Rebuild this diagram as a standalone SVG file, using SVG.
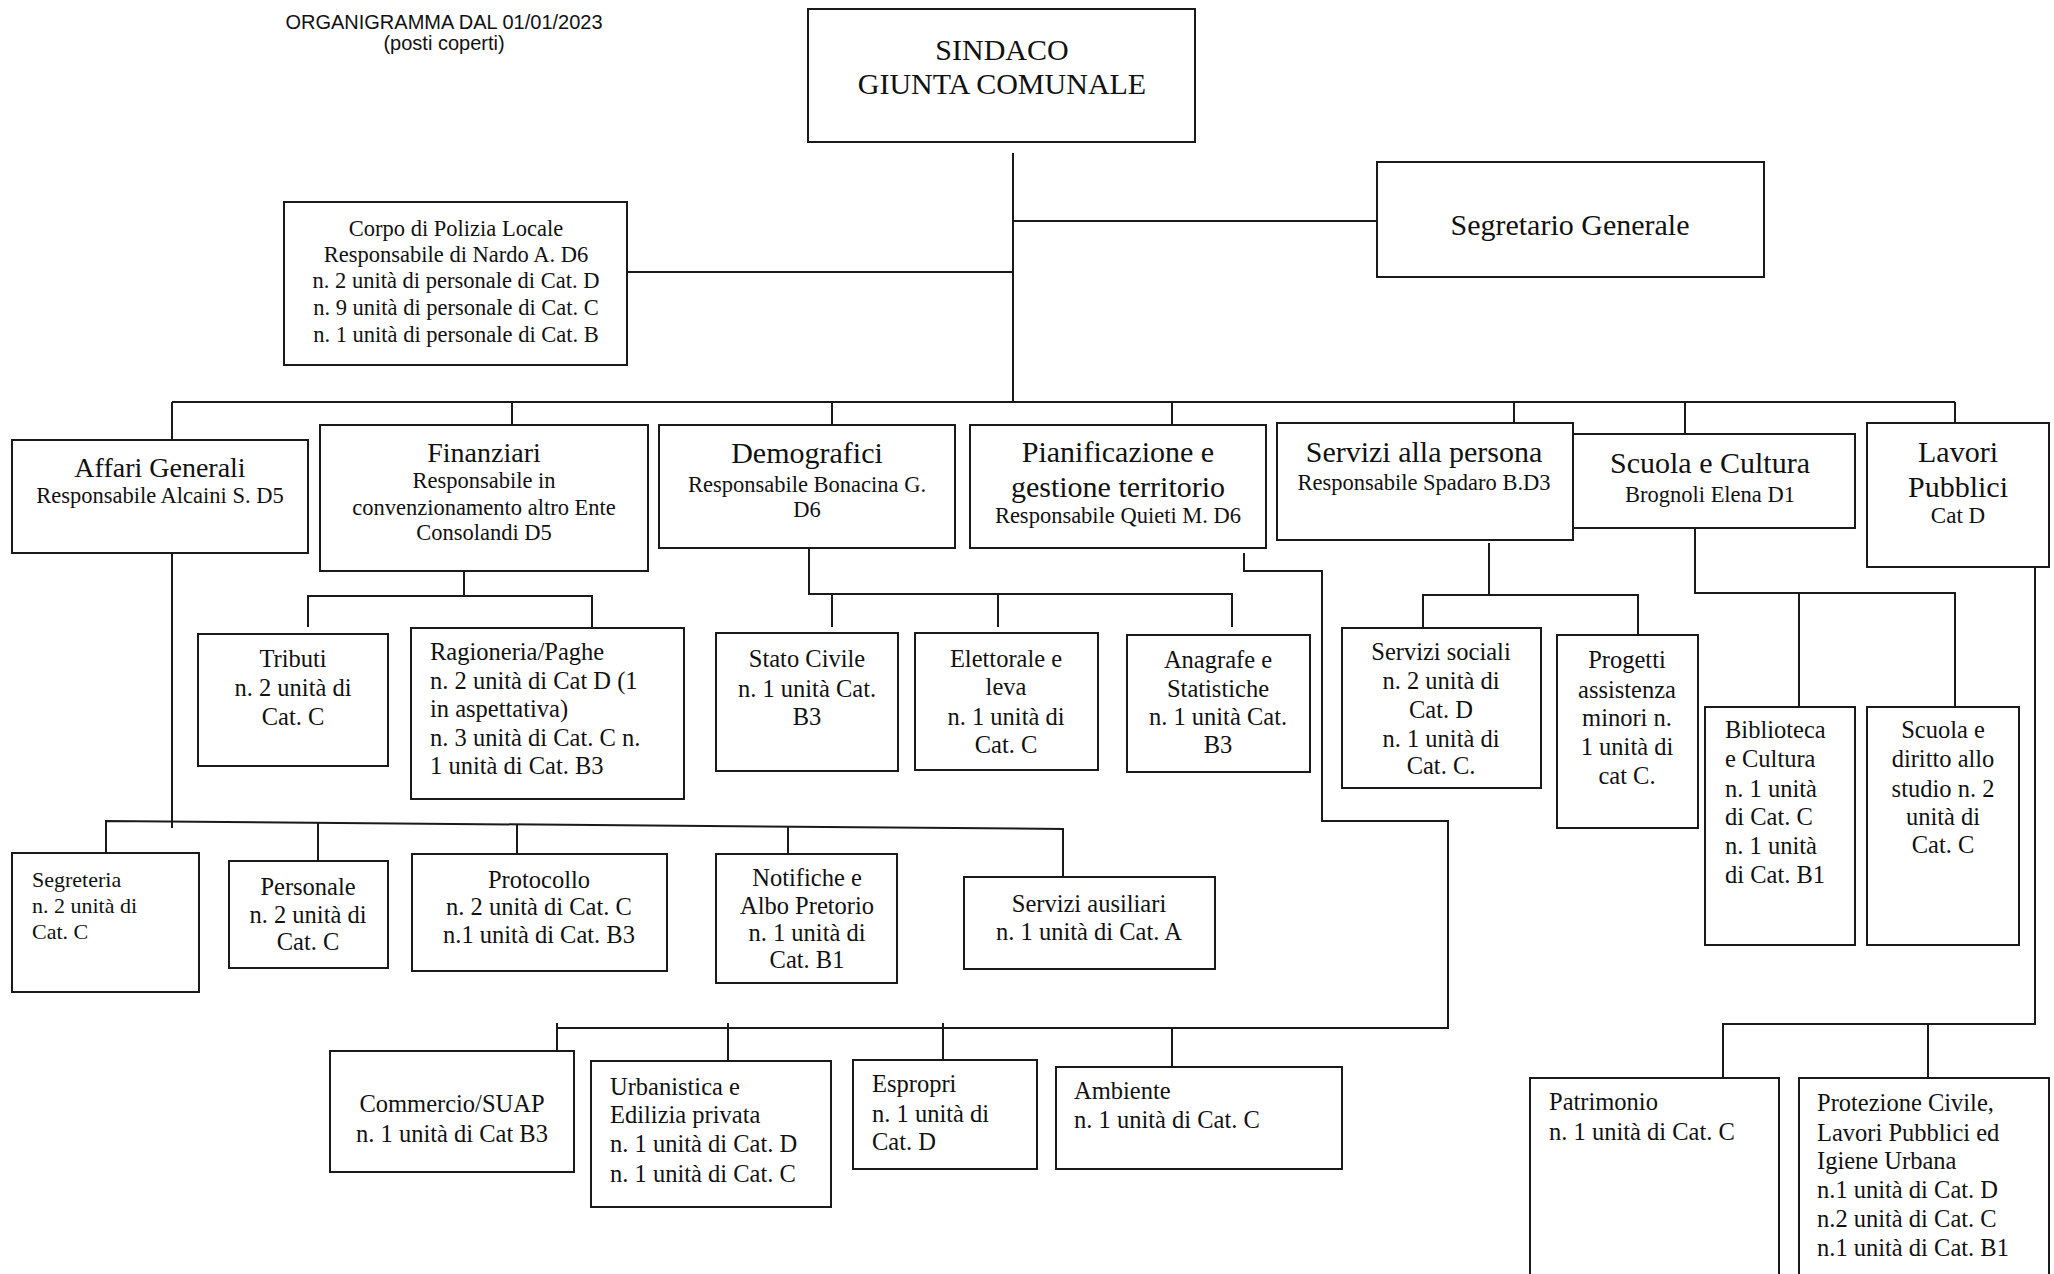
<svg xmlns="http://www.w3.org/2000/svg" width="2054" height="1274" viewBox="0 0 2054 1274">
<style>
  .bg{fill:#ffffff}
  .box{fill:#ffffff;stroke:#1a1a1a;stroke-width:2}
  .ln{fill:none;stroke:#1a1a1a;stroke-width:2}
  text{font-family:"Liberation Serif","Times New Roman",serif;fill:#111}
  .c{text-anchor:middle}
  .l{text-anchor:start}
  .t{font-family:"Liberation Sans",Arial,sans-serif;font-size:20px;text-anchor:middle}
  .h30{font-size:30px}
  .h28{font-size:28px}
  .s22{font-size:22.5px}
  .s23{font-size:23px}
  .b{font-size:24.5px}
  .b22{font-size:22px}
</style>
<rect class="bg" x="0" y="0" width="2054" height="1274"/>

<g id="title">
  <text class="t" x="444" y="29">ORGANIGRAMMA DAL 01/01/2023</text>
  <text class="t" x="444" y="50">(posti coperti)</text>
</g>

<g id="connectors">
  <path class="ln" d="M1013 153 V402"/>
  <path class="ln" d="M1013 221 H1377"/>
  <path class="ln" d="M627 272 H1013"/>
  <path class="ln" d="M172 402 H1955"/>
  <path class="ln" d="M172 402 V440 M512 402 V425 M832 402 V425 M1172 402 V425 M1514 402 V423 M1685 402 V434 M1955 402 V423"/>
  <path class="ln" d="M172 553 V828"/>
  <path class="ln" d="M106 853 V821 L1063 829 V877"/>
  <path class="ln" d="M318 823 V861 M517 824 V854 M788 827 V854"/>
  <path class="ln" d="M464 571 V596 M308 627 V596 H592 V628"/>
  <path class="ln" d="M809 548 V594 H1232 V627 M832 594 V627 M998 594 V627"/>
  <path class="ln" d="M1244 553 V571 H1322 V821 H1448 V1028 H557"/>
  <path class="ln" d="M557 1023 V1051 M728 1023 V1061 M943 1023 V1060 M1172 1028 V1067"/>
  <path class="ln" d="M1489 543 V595 M1423 628 V595 H1638 V635"/>
  <path class="ln" d="M1695 522 V593 H1955 V707 M1799 593 V707"/>
  <path class="ln" d="M2035 567 V1024 H1723 V1078 M1928 1024 V1078"/>
</g>

<g id="sindaco">
  <rect class="box" x="808" y="9" width="387" height="133"/>
  <text class="c h30" x="1002" y="60">SINDACO</text>
  <text class="c h30" x="1002" y="94">GIUNTA COMUNALE</text>
</g>
<g id="segretario">
  <rect class="box" x="1377" y="162" width="387" height="115"/>
  <text class="c h30" x="1570" y="235">Segretario Generale</text>
</g>
<g id="polizia">
  <rect class="box" x="284" y="202" width="343" height="163"/>
  <text class="c s22" x="456" y="236">Corpo di Polizia Locale</text>
  <text class="c s22" x="456" y="262">Responsabile di Nardo A. D6</text>
  <text class="c s22" x="456" y="288">n. 2 unità di personale di Cat. D</text>
  <text class="c s22" x="456" y="315">n. 9 unità di personale di Cat. C</text>
  <text class="c s22" x="456" y="342">n. 1 unità di personale di Cat. B</text>
</g>

<g id="affari">
  <rect class="box" x="12" y="440" width="296" height="113"/>
  <text class="c h28" x="160" y="477">Affari Generali</text>
  <text class="c s22" x="160" y="503">Responsabile Alcaini S. D5</text>
</g>
<g id="finanziari">
  <rect class="box" x="320" y="425" width="328" height="146"/>
  <text class="c h28" x="484" y="462">Finanziari</text>
  <text class="c s22" x="484" y="488">Responsabile in</text>
  <text class="c s22" x="484" y="515">convenzionamento altro Ente</text>
  <text class="c s22" x="484" y="540">Consolandi D5</text>
</g>
<g id="demografici">
  <rect class="box" x="659" y="425" width="296" height="123"/>
  <text class="c h30" x="807" y="463">Demografici</text>
  <text class="c s22" x="807" y="492">Responsabile Bonacina G.</text>
  <text class="c s22" x="807" y="517">D6</text>
</g>
<g id="pianificazione">
  <rect class="box" x="970" y="425" width="296" height="123"/>
  <text class="c h30" x="1118" y="462">Pianificazione e</text>
  <text class="c h30" x="1118" y="497">gestione territorio</text>
  <text class="c s22" x="1118" y="523">Responsabile Quieti M. D6</text>
</g>
<g id="servizi-persona">
  <rect class="box" x="1277" y="423" width="296" height="117"/>
  <text class="c h30" x="1424" y="462">Servizi alla persona</text>
  <text class="c s22" x="1424" y="490">Responsabile Spadaro B.D3</text>
</g>
<g id="scuola-cultura">
  <rect class="box" x="1573" y="434" width="282" height="94"/>
  <text class="c h30" x="1710" y="473">Scuola e Cultura</text>
  <text class="c s22" x="1710" y="502">Brognoli Elena D1</text>
</g>
<g id="lavori-pubblici">
  <rect class="box" x="1867" y="423" width="182" height="144"/>
  <text class="c h30" x="1958" y="462">Lavori</text>
  <text class="c h30" x="1958" y="497">Pubblici</text>
  <text class="c s23" x="1958" y="523">Cat D</text>
</g>

<g id="tributi">
  <rect class="box" x="198" y="634" width="190" height="132"/>
  <text class="c b" x="293" y="667">Tributi</text>
  <text class="c b" x="293" y="696">n. 2 unità di</text>
  <text class="c b" x="293" y="725">Cat. C</text>
</g>
<g id="ragioneria">
  <rect class="box" x="411" y="628" width="273" height="171"/>
  <text class="l b" x="430" y="660">Ragioneria/Paghe</text>
  <text class="l b" x="430" y="688.5">n. 2 unità di Cat D (1</text>
  <text class="l b" x="430" y="717">in aspettativa)</text>
  <text class="l b" x="430" y="745.5">n. 3 unità di Cat. C n.</text>
  <text class="l b" x="430" y="774">1 unità di Cat. B3</text>
</g>
<g id="stato-civile">
  <rect class="box" x="716" y="633" width="182" height="138"/>
  <text class="c b" x="807" y="667">Stato Civile</text>
  <text class="c b" x="807" y="697">n. 1 unità Cat.</text>
  <text class="c b" x="807" y="725">B3</text>
</g>
<g id="elettorale">
  <rect class="box" x="915" y="633" width="183" height="137"/>
  <text class="c b" x="1006" y="667">Elettorale e</text>
  <text class="c b" x="1006" y="695">leva</text>
  <text class="c b" x="1006" y="725">n. 1 unità di</text>
  <text class="c b" x="1006" y="753">Cat. C</text>
</g>
<g id="anagrafe">
  <rect class="box" x="1127" y="635" width="183" height="137"/>
  <text class="c b" x="1218" y="668">Anagrafe e</text>
  <text class="c b" x="1218" y="697">Statistiche</text>
  <text class="c b" x="1218" y="725">n. 1 unità Cat.</text>
  <text class="c b" x="1218" y="753">B3</text>
</g>
<g id="servizi-sociali">
  <rect class="box" x="1342" y="628" width="199" height="160"/>
  <text class="c b" x="1441" y="660">Servizi sociali</text>
  <text class="c b" x="1441" y="689">n. 2 unità di</text>
  <text class="c b" x="1441" y="718">Cat. D</text>
  <text class="c b" x="1441" y="747">n. 1 unità di</text>
  <text class="c b" x="1441" y="774">Cat. C.</text>
</g>
<g id="progetti">
  <rect class="box" x="1557" y="635" width="141" height="193"/>
  <text class="c b" x="1627" y="668">Progetti</text>
  <text class="c b" x="1627" y="698">assistenza</text>
  <text class="c b" x="1627" y="726">minori n.</text>
  <text class="c b" x="1627" y="755">1 unità di</text>
  <text class="c b" x="1627" y="784">cat C.</text>
</g>
<g id="biblioteca">
  <rect class="box" x="1705" y="707" width="150" height="238"/>
  <text class="l b" x="1725" y="738">Biblioteca</text>
  <text class="l b" x="1725" y="767">e Cultura</text>
  <text class="l b" x="1725" y="797">n. 1 unità</text>
  <text class="l b" x="1725" y="825">di Cat. C</text>
  <text class="l b" x="1725" y="854">n. 1 unità</text>
  <text class="l b" x="1725" y="883">di Cat. B1</text>
</g>
<g id="scuola-diritto">
  <rect class="box" x="1867" y="707" width="152" height="238"/>
  <text class="c b" x="1943" y="738">Scuola e</text>
  <text class="c b" x="1943" y="767">diritto allo</text>
  <text class="c b" x="1943" y="797">studio n. 2</text>
  <text class="c b" x="1943" y="825">unità di</text>
  <text class="c b" x="1943" y="853">Cat. C</text>
</g>

<g id="segreteria">
  <rect class="box" x="12" y="853" width="187" height="139"/>
  <text class="l b22" x="32" y="887">Segreteria</text>
  <text class="l b22" x="32" y="913">n. 2 unità di</text>
  <text class="l b22" x="32" y="939">Cat. C</text>
</g>
<g id="personale">
  <rect class="box" x="229" y="861" width="159" height="107"/>
  <text class="c b" x="308" y="895">Personale</text>
  <text class="c b" x="308" y="923">n. 2 unità di</text>
  <text class="c b" x="308" y="950">Cat. C</text>
</g>
<g id="protocollo">
  <rect class="box" x="412" y="854" width="255" height="117"/>
  <text class="c b" x="539" y="888">Protocollo</text>
  <text class="c b" x="539" y="915">n. 2 unità di Cat. C</text>
  <text class="c b" x="539" y="943">n.1 unità di Cat. B3</text>
</g>
<g id="notifiche">
  <rect class="box" x="716" y="854" width="181" height="129"/>
  <text class="c b" x="807" y="886">Notifiche e</text>
  <text class="c b" x="807" y="914">Albo Pretorio</text>
  <text class="c b" x="807" y="941">n. 1 unità di</text>
  <text class="c b" x="807" y="968">Cat. B1</text>
</g>
<g id="servizi-ausiliari">
  <rect class="box" x="964" y="877" width="251" height="92"/>
  <text class="c b" x="1089" y="912">Servizi ausiliari</text>
  <text class="c b" x="1089" y="940">n. 1 unità di Cat. A</text>
</g>

<g id="commercio">
  <rect class="box" x="330" y="1051" width="244" height="121"/>
  <text class="c b" x="452" y="1112">Commercio/SUAP</text>
  <text class="c b" x="452" y="1142">n. 1 unità di Cat B3</text>
</g>
<g id="urbanistica">
  <rect class="box" x="591" y="1061" width="240" height="146"/>
  <text class="l b" x="610" y="1095">Urbanistica e</text>
  <text class="l b" x="610" y="1123">Edilizia privata</text>
  <text class="l b" x="610" y="1152">n. 1 unità di Cat. D</text>
  <text class="l b" x="610" y="1182">n. 1 unità di Cat. C</text>
</g>
<g id="espropri">
  <rect class="box" x="853" y="1060" width="184" height="109"/>
  <text class="l b" x="872" y="1092">Espropri</text>
  <text class="l b" x="872" y="1122">n. 1 unità di</text>
  <text class="l b" x="872" y="1150">Cat. D</text>
</g>
<g id="ambiente">
  <rect class="box" x="1056" y="1067" width="286" height="102"/>
  <text class="l b" x="1074" y="1099">Ambiente</text>
  <text class="l b" x="1074" y="1128">n. 1 unità di Cat. C</text>
</g>
<g id="patrimonio">
  <rect class="box" x="1530" y="1078" width="249" height="230"/>
  <text class="l b" x="1549" y="1110">Patrimonio</text>
  <text class="l b" x="1549" y="1140">n. 1 unità di Cat. C</text>
</g>
<g id="protezione-civile">
  <rect class="box" x="1799" y="1078" width="250" height="230"/>
  <text class="l b" x="1817" y="1111">Protezione Civile,</text>
  <text class="l b" x="1817" y="1141">Lavori Pubblici ed</text>
  <text class="l b" x="1817" y="1169">Igiene Urbana</text>
  <text class="l b" x="1817" y="1198">n.1 unità di Cat. D</text>
  <text class="l b" x="1817" y="1227">n.2 unità di Cat. C</text>
  <text class="l b" x="1817" y="1256">n.1 unità di Cat. B1</text>
</g>
</svg>
